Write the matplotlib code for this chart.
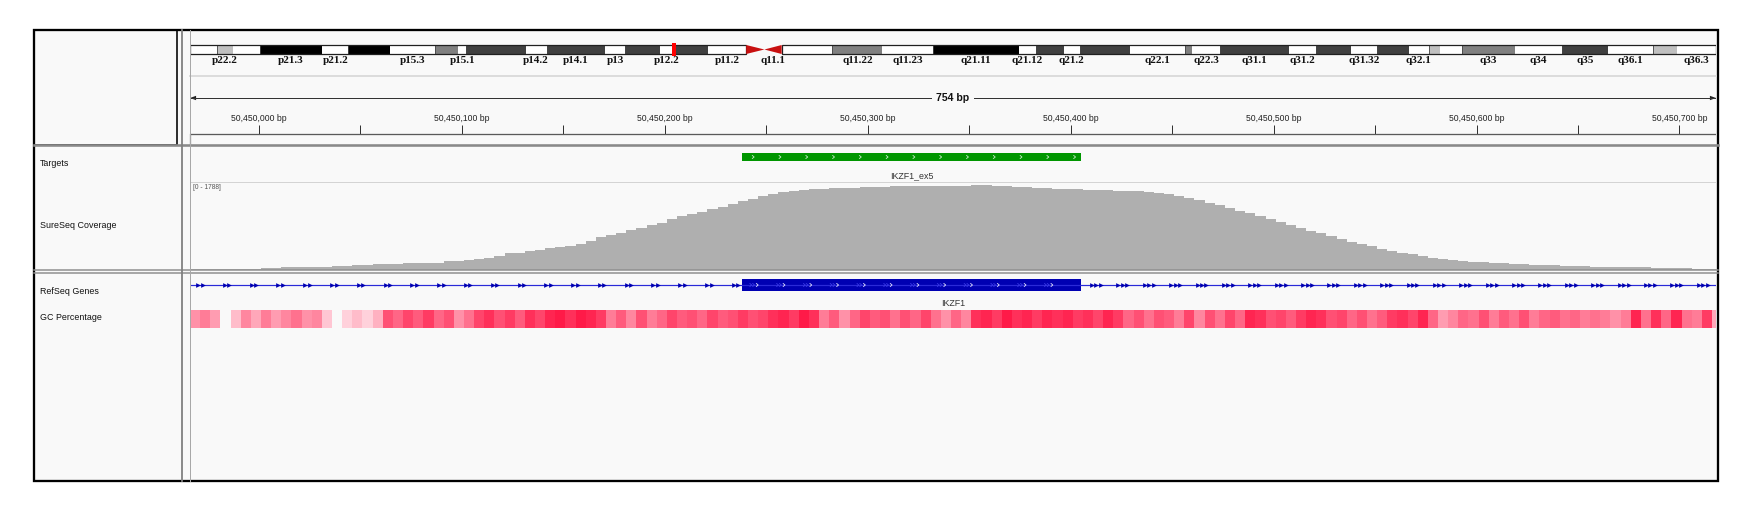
import numpy as np
import matplotlib
matplotlib.use("Agg")
import matplotlib.pyplot as plt
from matplotlib.patches import Rectangle, Polygon
from matplotlib.colors import LinearSegmentedColormap

W, H = 1761, 516

# ---------------- data ----------------
chrom_len = 159.138663  # chr7, Mb
view_start = 50449966
view_end = 50450718
span_label = "754 bp"

# chr7 cytobands (Mb)
band_names = ["p22.3", "p22.2", "p22.1", "p21.3", "p21.2", "p21.1", "p15.3", "p15.2", "p15.1",
              "p14.3", "p14.2", "p14.1", "p13", "p12.3", "p12.2", "p12.1", "p11.2", "p11.1",
              "q11.1", "q11.21", "q11.22", "q11.23", "q21.11", "q21.12", "q21.13", "q21.2",
              "q21.3", "q22.1", "q22.2", "q22.3", "q31.1", "q31.2", "q31.31", "q31.32",
              "q31.33", "q32.1", "q32.2", "q32.3", "q33", "q34", "q35", "q36.1", "q36.2", "q36.3"]
band_starts = [0.0, 2.8, 4.5, 7.3, 13.8, 16.5, 20.9, 25.5, 28.0, 28.8, 35.0, 37.2, 43.3, 45.4,
               49.0, 50.5, 54.0, 58.0, 59.9, 61.7, 67.0, 72.2, 77.5, 86.4, 88.2, 91.1, 92.8,
               98.0, 103.8, 104.5, 107.4, 114.6, 117.4, 121.1, 123.8, 127.1, 129.2, 130.4,
               132.6, 138.2, 143.1, 147.9, 152.6, 155.1]
band_ends = band_starts[1:] + [chrom_len]
band_stains = ["gneg", "gpos25", "gneg", "gpos100", "gneg", "gpos100", "gneg", "gpos50", "gneg",
               "gpos75", "gneg", "gpos75", "gneg", "gpos75", "gneg", "gpos75", "gneg", "acen",
               "acen", "gneg", "gpos50", "gneg", "gpos100", "gneg", "gpos75", "gneg",
               "gpos75", "gneg", "gpos50", "gneg", "gpos75", "gneg", "gpos75", "gneg",
               "gpos75", "gneg", "gpos25", "gneg", "gpos50", "gneg", "gpos75", "gneg", "gpos25", "gneg"]
shown_labels = ["p22.2", "p21.3", "p21.2", "p15.3", "p15.1", "p14.2", "p14.1", "p13", "p12.2",
                "p11.2", "q11.1", "q11.22", "q11.23", "q21.11", "q21.12", "q21.2", "q22.1",
                "q22.3", "q31.1", "q31.2", "q31.32", "q32.1", "q33", "q34", "q35", "q36.1", "q36.3"]

target_name = "IKZF1_ex5"
target_start, target_end = 50450238, 50450405
gene_name = "IKZF1"
exon_start, exon_end = 50450238, 50450405

cov_max = 1788
cov_bin = 5
coverage = [10, 16, 16, 16, 18, 18, 20, 22, 38, 41,
            41, 42, 44, 60, 62, 64, 88, 90, 108, 110,
            112, 135, 137, 139, 142, 170, 172, 204, 215, 230,
            285, 330, 345, 385, 400, 435, 450, 490, 530, 585,
            655, 705, 755, 800, 850, 900, 950, 1030, 1085, 1125,
            1172, 1230, 1280, 1336, 1390, 1450, 1505, 1545, 1580, 1610,
            1628, 1640, 1650, 1660, 1668, 1672, 1678, 1688, 1696, 1704,
            1706, 1702, 1700, 1703, 1706, 1710, 1712, 1732, 1720, 1708,
            1700, 1695, 1690, 1668, 1660, 1652, 1645, 1636, 1628, 1620,
            1615, 1610, 1606, 1602, 1575, 1560, 1535, 1500, 1460, 1415,
            1365, 1315, 1262, 1205, 1150, 1092, 1035, 975, 915, 855,
            795, 738, 680, 625, 572, 520, 472, 428, 385, 345,
            308, 275, 245, 220, 196, 176, 160, 146, 134, 124,
            115, 106, 98, 90, 82, 75, 70, 64, 60, 50,
            48, 48, 48, 46, 30, 28, 28, 26, 12, 12,
            10]

gc_bin = 5
gc_level = [0.4, 0.5, 0.35, None, 0.2, 0.45, 0.3, 0.5, 0.35, 0.45,
            0.55, 0.4, 0.45, 0.15, None, 0.1, 0.2, 0.1, 0.25, 0.7,
            0.6, 0.75, 0.65, 0.8, 0.6, 0.7, 0.4, 0.55, 0.75, 0.85,
            0.7, 0.8, 0.65, 0.85, 0.75, 0.9, 0.95, 0.85, 0.95, 0.9,
            0.8, 0.5, 0.65, 0.45, 0.7, 0.5, 0.6, 0.75, 0.65, 0.7,
            0.6, 0.75, 0.65, 0.7, 0.8, 0.7, 0.75, 0.85, 0.9, 0.8,
            0.95, 0.85, 0.5, 0.65, 0.4, 0.6, 0.75, 0.65, 0.7, 0.55,
            0.7, 0.6, 0.75, 0.55, 0.4, 0.6, 0.45, 0.85, 0.9, 0.8,
            0.95, 0.85, 0.9, 0.8, 0.9, 0.85, 0.9, 0.8, 0.85, 0.75,
            0.9, 0.8, 0.6, 0.7, 0.55, 0.7, 0.65, 0.5, 0.75, 0.45,
            0.7, 0.55, 0.75, 0.6, 0.9, 0.85, 0.7, 0.75, 0.65, 0.8,
            0.9, 0.85, 0.7, 0.75, 0.6, 0.7, 0.55, 0.65, 0.8, 0.85,
            0.75, 0.9, 0.6, 0.35, 0.45, 0.6, 0.55, 0.7, 0.5, 0.65,
            0.55, 0.7, 0.5, 0.6, 0.65, 0.55, 0.6, 0.5, 0.55, 0.5,
            0.4, 0.5, 0.9, 0.55, 0.85, 0.6, 0.9, 0.55, 0.5, 0.8,
            0.3]

track_names = ["Targets", "SureSeq Coverage", "RefSeq Genes", "GC Percentage"]
track_name_y = [164, 226, 291, 318]

# ---------------- style ----------------
SANS = "Liberation Sans"
SERIF = "Liberation Serif"
BG = "#F9F9F9"
GENE_BLUE = "#0000B2"
TARGET_GREEN = "#009600"
COV_GRAY = "#AFAFAF"
PX = 0.72  # points per pixel at dpi 100

fig = plt.figure(figsize=(W / 100, H / 100), dpi=100)
fig.patch.set_facecolor("white")


def px_axes(x0, y0, x1, y1, z=1):
    ax = fig.add_axes([x0 / W, 1 - y1 / H, (x1 - x0) / W, (y1 - y0) / H], zorder=z)
    ax.set_axis_off()
    ax.patch.set_alpha(0)
    return ax


# background panel
under = px_axes(0, 0, W, H, z=0)
under.set_xlim(0, W)
under.set_ylim(H, 0)
under.add_patch(Rectangle((34, 30), 1684, 451, facecolor=BG, edgecolor="none"))

DL, DR = 190, 1716  # data panel edges

# ---- ideogram ----
ideo = px_axes(DL, 40, DR, 70)
ideo.set_xlim(0, chrom_len)
ideo.set_ylim(30, 0)
stain_color = {"gneg": "#FFFFFF", "gpos25": "#C0C0C0", "gpos50": "#808080",
               "gpos75": "#404040", "gpos100": "#000000"}
for name, s, e, st in zip(band_names, band_starts, band_ends, band_stains):
    if st == "acen":
        continue
    ideo.add_patch(Rectangle((s, 5), e - s, 9, facecolor=stain_color[st],
                             edgecolor="#202020" if st != "gneg" else "none", lw=0.5))
acen = [(s, e) for s, e, st in zip(band_starts, band_ends, band_stains) if st == "acen"]
p_end, q_start = acen[0][0], acen[-1][1]
ideo.add_patch(Rectangle((0, 5), p_end, 9, fill=False, edgecolor="#202020", lw=0.9))
ideo.add_patch(Rectangle((q_start, 5), chrom_len - q_start, 9, fill=False, edgecolor="#202020", lw=0.9))
(s1, e1), (s2, e2) = acen
ideo.add_patch(Polygon([(s1, 5), (s1, 14), (e1, 9.5)], closed=True, facecolor="#C81010", edgecolor="none"))
ideo.add_patch(Polygon([(e2, 5), (e2, 14), (s2, 9.5)], closed=True, facecolor="#C81010", edgecolor="none"))
for name, s, e in zip(band_names, band_starts, band_ends):
    if name in shown_labels:
        t = ideo.text((s + e) / 2, 20.5, name, ha="center", va="center", fontsize=8.0,
                      family=SERIF, fontweight="bold", color="#111111")
        t.set_clip_on(True)
center_mb = (view_start + view_end) / 2 / 1e6
mark_w = 4 / (DR - DL) * chrom_len
ideo.add_patch(Rectangle((center_mb - mark_w / 2, 2.5), mark_w, 13, facecolor="#FF0000",
                         edgecolor="none", clip_on=False, zorder=5))

# ---- ruler ----
ruler = px_axes(DL, 76, DR, 146)
ruler.set_xlim(view_start, view_end)
ruler.set_ylim(70, 0)
ruler.plot([view_start, view_end], [22, 22], color="#333333", lw=1 * PX)
ah = 3.0
ruler.add_patch(Polygon([(view_start, 22), (view_start + ah, 19.8), (view_start + ah, 24.2)],
                        facecolor="#222222", edgecolor="none"))
ruler.add_patch(Polygon([(view_end, 22), (view_end - ah, 19.8), (view_end - ah, 24.2)],
                        facecolor="#222222", edgecolor="none"))
ruler.text((view_start + view_end) / 2, 22, span_label, ha="center", va="center", fontsize=7.6,
           family=SANS, fontweight="bold", color="#111111",
           bbox=dict(facecolor=BG, edgecolor="none", pad=3.5))
minor = np.arange(np.ceil(view_start / 50) * 50, view_end, 50)
ruler.vlines(minor, 49, 58, color="#333333", lw=1 * PX)
for t in minor[minor % 100 == 0]:
    ruler.text(t, 42, f"{int(t):,} bp", ha="center", va="center", fontsize=6.2,
               family=SANS, color="#222222")
ruler.plot([view_start, view_end], [58, 58], color="#5A5A5A", lw=1.3 * PX)

# ---- targets ----
tgt = px_axes(DL, 146, DR, 182)
tgt.set_xlim(view_start, view_end)
tgt.set_ylim(36, 0)
tgt.add_patch(Rectangle((target_start, 7), target_end - target_start, 8, facecolor=TARGET_GREEN,
                        edgecolor="none"))
for p in np.arange(target_start + 6, target_end - 2, 13.2):
    tgt.plot([p - 0.9, p, p - 0.9], [9.5, 11, 12.5], color="#CFEFCF", lw=0.8 * PX)
tgt.text((target_start + target_end) / 2, 30, target_name, ha="center", va="center",
         fontsize=6.4, family=SANS, color="#333333")

# ---- coverage ----
cov = px_axes(DL, 182, DR, 269.5)
cov.set_xlim(view_start, view_end)
cov.set_ylim(0, cov_max)
edges = view_start + cov_bin * np.arange(len(coverage) + 1)
cov.stairs(coverage, edges, fill=True, color=COV_GRAY, lw=0)
cov.text(3 / (DR - DL), 0.935, f"[0 - {cov_max}]", transform=cov.transAxes, ha="left",
         va="center", fontsize=4.8, family=SANS, color="#555555")

# ---- RefSeq gene ----
gene = px_axes(DL, 274, DR, 308)
gene.set_xlim(view_start, view_end)
gene.set_ylim(34, 0)
gene.plot([view_start, view_end], [11, 11], color="#2A2AD8", lw=1.2 * PX)
left = np.arange(view_start + 4, exon_start - 3, 13.2)
right = np.arange(exon_end + 5.5, view_end, 13.0)
lx = np.concatenate([left, left + 2.2])
rx = np.concatenate([right, right + 2.2, right + 4.4])
gene.plot(lx, np.full_like(lx, 11.0), ls="none", marker=">", ms=3.4, color=GENE_BLUE, mew=0)
gene.plot(rx, np.full_like(rx, 11.0), ls="none", marker=">", ms=3.4, color=GENE_BLUE, mew=0)
gene.add_patch(Rectangle((exon_start, 5), exon_end - exon_start, 12, facecolor=GENE_BLUE,
                         edgecolor="none"))
for p in np.arange(exon_start + 8, exon_end - 2, 13.2):
    for dx, c in ((-3.2, "#3A3AE8"), (-1.8, "#3A3AE8"), (0, "#E8E8FF")):
        gene.plot([p + dx - 0.9, p + dx, p + dx - 0.9], [9.5, 11, 12.5], color=c, lw=0.8 * PX)
gene.text((view_start + view_end) / 2, 29, gene_name, ha="center", va="center",
          fontsize=6.4, family=SANS, color="#333333")

# ---- GC percentage ----
gc = px_axes(DL, 309.5, DR, 327.5)
gc.set_xlim(view_start, view_end)
gc.set_ylim(0, 1)
gc_vals = np.ma.masked_invalid(np.array([np.nan if v is None else v for v in gc_level], float))
gc_edges = view_start + gc_bin * np.arange(len(gc_level) + 1)
gc_cmap = LinearSegmentedColormap.from_list("gc", ["#FFE6EC", "#FF7C97", "#FF1040"])
gc.pcolormesh(gc_edges, [0, 1], gc_vals[np.newaxis, :], cmap=gc_cmap, vmin=0, vmax=1,
              shading="flat", edgecolors="none")

# ---- chrome overlay: borders, separators, track names ----
top = px_axes(0, 0, W, H, z=10)
top.set_xlim(0, W)
top.set_ylim(H, 0)
top.plot([DL, DR], [76, 76], color="#DCDCDC", lw=2 * PX)
top.plot([DL, DL], [134, 144], color="#5A5A5A", lw=1.2 * PX)
top.plot([DL, DR], [182, 182], color="#D4D4D4", lw=1 * PX)
top.plot([34, 1718], [144.8, 144.8], color="#8A8A8A", lw=2.6 * PX)
top.plot([34, 1718], [269.9, 269.9], color="#8E8E8E", lw=1.5 * PX)
top.plot([34, 1718], [273.4, 273.4], color="#8E8E8E", lw=1.5 * PX)
top.plot([182, 182], [30, 481], color="#808080", lw=1.8 * PX)
top.plot([189.5, 189.5], [30, 481], color="#A8A8A8", lw=1 * PX)
top.add_patch(Rectangle((34, 30), 143, 114.5, fill=False, edgecolor="black", lw=1.6 * PX))
top.add_patch(Rectangle((34, 30), 1684, 451, fill=False, edgecolor="black", lw=2.3 * PX))
for name, y in zip(track_names, track_name_y):
    top.text(40, y, name, ha="left", va="center", fontsize=6.4, family=SANS, color="#111111")

fig.savefig("out.png", dpi=100, facecolor="white")
